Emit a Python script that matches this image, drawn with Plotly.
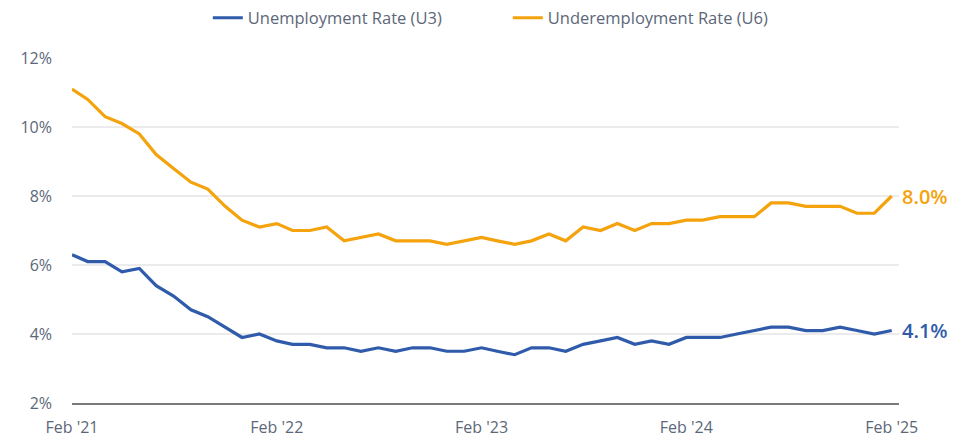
import pandas as pd
import plotly.graph_objects as go

# Monthly observations, Feb 2021 through Feb 2025
months = pd.date_range("2021-02-01", "2025-02-01", freq="MS")

u3_rate = [
    6.3, 6.1, 6.1, 5.8, 5.9, 5.4, 5.1, 4.7, 4.5, 4.2, 3.9, 4.0,
    3.8, 3.7, 3.7, 3.6, 3.6, 3.5, 3.6, 3.5, 3.6, 3.6, 3.5, 3.5,
    3.6, 3.5, 3.4, 3.6, 3.6, 3.5, 3.7, 3.8, 3.9, 3.7, 3.8, 3.7,
    3.9, 3.9, 3.9, 4.0, 4.1, 4.2, 4.2, 4.1, 4.1, 4.2, 4.1, 4.0,
    4.1,
]
u6_rate = [
    11.1, 10.8, 10.3, 10.1, 9.8, 9.2, 8.8, 8.4, 8.2, 7.7, 7.3, 7.1,
    7.2, 7.0, 7.0, 7.1, 6.7, 6.8, 6.9, 6.7, 6.7, 6.7, 6.6, 6.7,
    6.8, 6.7, 6.6, 6.7, 6.9, 6.7, 7.1, 7.0, 7.2, 7.0, 7.2, 7.2,
    7.3, 7.3, 7.4, 7.4, 7.4, 7.8, 7.8, 7.7, 7.7, 7.7, 7.5, 7.5,
    8.0,
]

x_tick_dates = ["2021-02-01", "2022-02-01", "2023-02-01", "2024-02-01", "2025-02-01"]
x_tick_labels = ["Feb '21", "Feb '22", "Feb '23", "Feb '24", "Feb '25"]
y_tick_values = [2, 4, 6, 8, 10, 12]
y_tick_labels = ["2%", "4%", "6%", "8%", "10%", "12%"]

BLUE = "#2F5BAA"
ORANGE = "#F4A30D"
TEXT = "#5C6778"
FONT = "Open Sans, Roboto, sans-serif"

fig = go.Figure()
fig.add_trace(go.Scatter(
    x=months, y=u3_rate, mode="lines", name="Unemployment Rate (U3)",
    line=dict(color=BLUE, width=3.2),
))
fig.add_trace(go.Scatter(
    x=months, y=u6_rate, mode="lines", name="Underemployment Rate (U6)",
    line=dict(color=ORANGE, width=3.2),
))

# Latest-value labels at the right end of each line
for series, color in ((u6_rate, ORANGE), (u3_rate, BLUE)):
    fig.add_annotation(
        x=months[-1], y=series[-1], text=f"{series[-1]:.1f}%",
        showarrow=False, xanchor="left", yanchor="middle", xshift=8,
        font=dict(family=FONT, size=20, color=color, weight=600),
    )

fig.update_layout(
    width=968, height=440,
    margin=dict(l=72, r=69, t=58, b=37),
    paper_bgcolor="white", plot_bgcolor="white",
    font=dict(family=FONT, size=16, color=TEXT),
    showlegend=True,
    legend=dict(
        orientation="h", x=0.527, xanchor="center",
        yref="container", y=0.959, yanchor="middle",
        font=dict(family=FONT, size=16.5, color=TEXT),
        entrywidth=255, itemwidth=30, tracegroupgap=0,
        bgcolor="rgba(0,0,0,0)",
    ),
    xaxis=dict(
        range=["2021-02-01", "2025-02-14"],
        tickvals=x_tick_dates, ticktext=x_tick_labels,
        showgrid=False, zeroline=False,
        showline=True, linecolor="#7a7a7a", linewidth=2,
        ticks="", ticklabelstandoff=9, automargin=False,
        tickfont=dict(family=FONT, size=16, color=TEXT),
    ),
    yaxis=dict(
        range=[2, 12],
        tickvals=y_tick_values, ticktext=y_tick_labels,
        showgrid=True, gridcolor="#EBEBEB", gridwidth=1.5,
        zeroline=False, showline=False,
        ticks="", ticklabelstandoff=19, automargin=False,
        tickfont=dict(family=FONT, size=16, color=TEXT),
    ),
)

fig.write_html("out.html")
